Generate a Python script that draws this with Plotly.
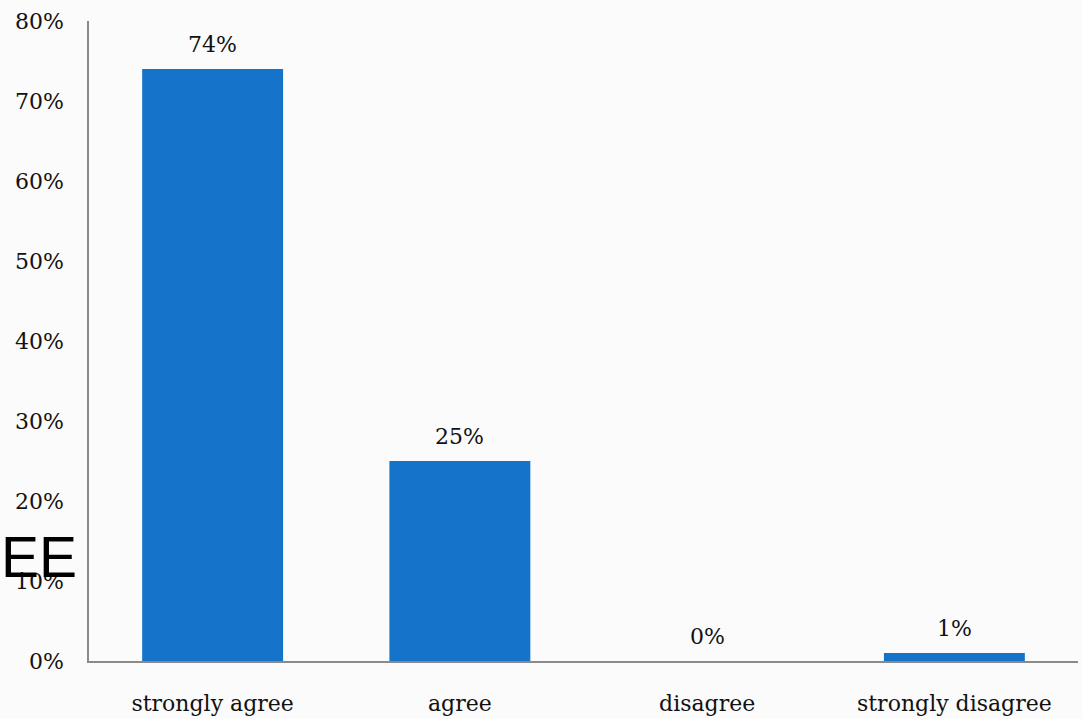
import plotly.graph_objects as go

categories = ["strongly agree", "agree", "disagree", "strongly disagree"]
values = [74, 25, 0, 1]
tick_values = [0, 10, 20, 30, 40, 50, 60, 70, 80]
tick_labels = ["0%", "10%", "20%", "30%", "40%", "50%", "60%", "70%", "80%"]

bar_color = "#1573C9"
font_family = "DejaVu Serif"

fig = go.Figure()
fig.add_trace(go.Bar(
    x=categories,
    y=values,
    marker=dict(color=bar_color, line=dict(width=0)),
    hoverinfo="x+y",
))

# value labels above each bar
for cat, val in zip(categories, values):
    fig.add_annotation(
        x=cat, y=val, text=f"{val}%", showarrow=False,
        yanchor="middle", yshift=25,
        font=dict(family=font_family, size=22, color="#111111"),
    )

# stray large heading fragment at the left edge
fig.add_annotation(
    xref="paper", yref="paper", x=-0.091, y=0.162,
    xanchor="left", yanchor="middle",
    text="EE", showarrow=False,
    font=dict(family="Liberation Sans", size=57, color="#000000"),
)

fig.update_layout(
    width=1082, height=719,
    margin=dict(l=89, r=4, t=21, b=58, autoexpand=False),
    paper_bgcolor="#fbfbfb",
    plot_bgcolor="#fbfbfb",
    bargap=0.43,
    showlegend=False,
    font=dict(family=font_family, size=22, color="#111111"),
    xaxis=dict(
        showline=True, linecolor="#8a8a8a", linewidth=1.5,
        showgrid=False, ticks="", ticklabelstandoff=22, automargin=False,
        tickfont=dict(family=font_family, size=22, color="#111111"),
    ),
    yaxis=dict(
        range=[0, 80], tickvals=tick_values, ticktext=tick_labels,
        showline=True, linecolor="#8a8a8a", linewidth=1.5,
        showgrid=False, zeroline=False, ticks="", ticklabelstandoff=19,
        automargin=False,
        tickfont=dict(family=font_family, size=22, color="#111111"),
    ),
)

fig.write_html("out.html")
